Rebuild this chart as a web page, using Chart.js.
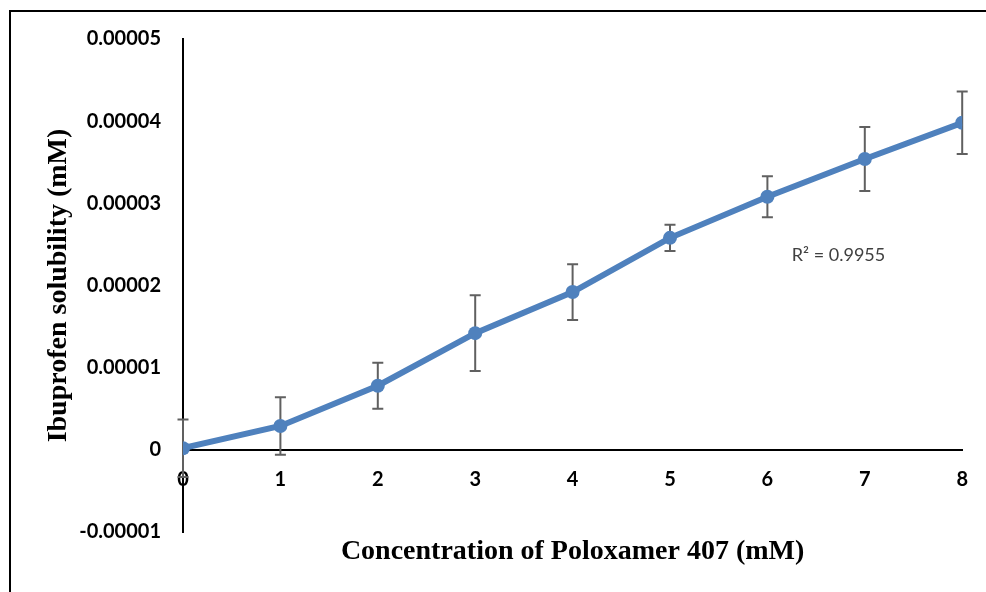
<!DOCTYPE html>
<html>
<head>
<meta charset="utf-8">
<script src="https://cdn.jsdelivr.net/npm/chart.js@4"></script>
<style>
  html, body { margin: 0; padding: 0; background: #fff; }
  #wrap { position: relative; width: 986px; height: 592px; overflow: hidden; }
  #frame { position: absolute; left: 9px; top: 10px; width: 1000px; height: 600px;
           border-top: 2px solid #000; border-left: 2px solid #000; }
  #chart { position: absolute; left: 0; top: 0; }
</style>
</head>
<body>
<div id="wrap">
  <div id="frame"></div>
  <canvas id="chart" width="986" height="592"></canvas>
</div>
<script>
// poloxamer 407 concentration (mM)
const concentrations = [0, 1, 2, 3, 4, 5, 6, 7, 8];
// ibuprofen solubility (mM)
const solubility = [0.0000002, 0.0000029, 0.0000078, 0.0000142, 0.0000192, 0.0000258, 0.0000308, 0.0000354, 0.0000398];
// +/- error bar half heights
const errors = [0.0000035, 0.0000035, 0.0000028, 0.0000046, 0.0000034, 0.0000016, 0.0000025, 0.0000039, 0.0000038];
const yTicks = [-0.00001, 0, 0.00001, 0.00002, 0.00003, 0.00004, 0.00005];
const xTitle = 'Concentration of Poloxamer 407 (mM)';
const yTitle = 'Ibuprofen solubility (mM)';
const r2Label = 'R\u00B2 = 0.9955';
const r2Anchor = [6.73, 0.0000237]; // where the label sits, in data units

const tickFont = { family: 'Lato', size: 20, weight: 'bold' };

// error bars drawn behind the line, through the chart's own scales
const errorBars = {
  id: 'errorBars',
  beforeDatasetsDraw(chart) {
    const { ctx, scales: { x, y } } = chart;
    ctx.save();
    ctx.strokeStyle = '#606060';
    ctx.lineWidth = 2;
    concentrations.forEach((c, i) => {
      const px = x.getPixelForValue(c);
      const top = y.getPixelForValue(solubility[i] + errors[i]);
      const bot = y.getPixelForValue(solubility[i] - errors[i]);
      ctx.beginPath();
      ctx.moveTo(px, top); ctx.lineTo(px, bot);
      ctx.moveTo(px - 5.5, top); ctx.lineTo(px + 5.5, top);
      ctx.moveTo(px - 5.5, bot); ctx.lineTo(px + 5.5, bot);
      ctx.stroke();
    });
    ctx.restore();
  }
};

// axis titles and the R² note
const labels = {
  id: 'labels',
  afterDraw(chart) {
    const { ctx, chartArea, scales: { x, y } } = chart;
    ctx.save();
    ctx.fillStyle = '#000';
    ctx.font = 'bold 28px "Liberation Serif"';
    ctx.textAlign = 'center';
    ctx.textBaseline = 'middle';
    ctx.fillText(xTitle, (chartArea.left + chartArea.right) / 2, 552);
    ctx.translate(59, (chartArea.top + chartArea.bottom) / 2);
    ctx.rotate(-Math.PI / 2);
    ctx.fillText(yTitle, 0, 0);
    ctx.restore();

    ctx.save();
    ctx.fillStyle = '#404040';
    ctx.font = '18px Lato';
    ctx.textAlign = 'center';
    ctx.textBaseline = 'middle';
    ctx.fillText(r2Label, x.getPixelForValue(r2Anchor[0]), y.getPixelForValue(r2Anchor[1]));
    ctx.restore();
  }
};

new Chart(document.getElementById('chart'), {
  type: 'line',
  data: {
    datasets: [{
      data: concentrations.map((c, i) => ({ x: c, y: solubility[i] })),
      borderColor: '#4F81BD',
      backgroundColor: '#4F81BD',
      borderWidth: 6,
      pointRadius: 7,
      pointHoverRadius: 7,
      pointBorderWidth: 0,
      tension: 0
    }]
  },
  options: {
    responsive: false,
    animation: false,
    events: [],
    layout: { padding: { top: 39, bottom: 60, left: 0, right: 19 } },
    plugins: { legend: { display: false }, tooltip: { enabled: false } },
    scales: {
      x: {
        type: 'linear',
        position: { y: 0 },
        min: 0,
        max: 8,
        grid: { display: false, drawTicks: false },
        border: { color: '#000', width: 2 },
        ticks: { stepSize: 1, font: tickFont, color: '#000', padding: 18 }
      },
      y: {
        min: yTicks[0],
        max: yTicks[yTicks.length - 1],
        afterFit(scale) { scale.width = 183; },
        afterBuildTicks(scale) { scale.ticks = yTicks.map(v => ({ value: v })); },
        grid: { display: false, drawTicks: false },
        border: { color: '#000', width: 2 },
        ticks: {
          font: tickFont,
          color: '#000',
          padding: 22,
          callback: v => (v === 0 ? '0' : v.toFixed(5))
        }
      }
    }
  },
  plugins: [errorBars, labels]
});
</script>
</body>
</html>
